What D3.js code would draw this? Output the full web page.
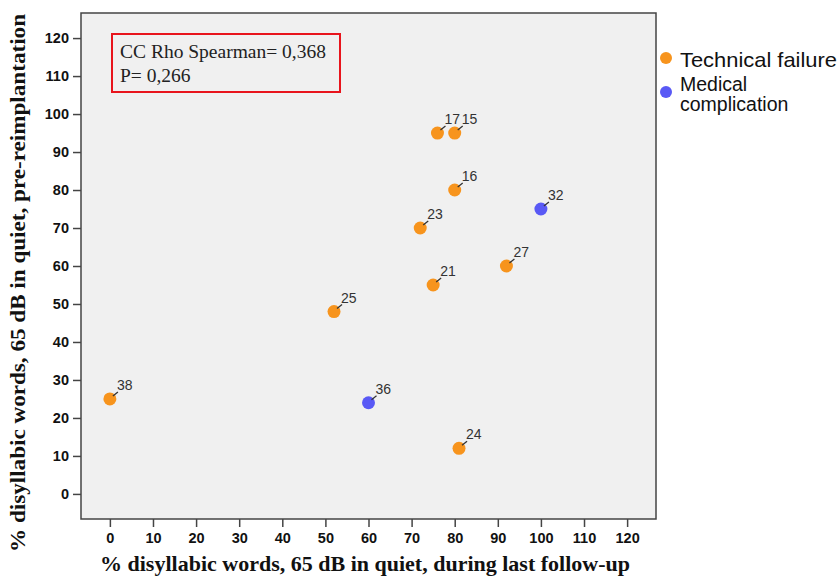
<!DOCTYPE html>
<html>
<head>
<meta charset="utf-8">
<script src="https://cdn.jsdelivr.net/npm/d3@7"></script>
<style>
  body { margin: 0; background: #fff; }
  svg { display: block; }
</style>
</head>
<body>
<div id="chart"></div>
<script>
// patient ids, follow-up score (x), pre-reimplantation score (y), group
const ids    = ["38", "25", "36", "23", "21", "17", "15", "16", "27", "24", "32"];
const xVals  = [0, 52, 60, 72, 75, 76, 80, 80, 92, 81, 100];
const yVals  = [25, 48, 24, 70, 55, 95, 95, 80, 60, 12, 75];
const groups = ["Technical failure", "Technical failure", "Medical complication",
                "Technical failure", "Technical failure", "Technical failure",
                "Technical failure", "Technical failure", "Technical failure",
                "Technical failure", "Medical complication"];
const groupNames = ["Technical failure", "Medical complication"];
const ticks = [0, 10, 20, 30, 40, 50, 60, 70, 80, 90, 100, 110, 120];
const statLines = ["CC Rho Spearman= 0,368", "P= 0,266"];

const W = 839, H = 576;
const plot = {left: 81, top: 13, right: 656, bottom: 519};
const serif = "'Liberation Serif', 'DejaVu Serif', serif";
const sans = "'Liberation Sans', Arial, sans-serif";

const color = d3.scaleOrdinal()
    .domain(groupNames)
    .range(["#f7941d", "#5959f5"]);

const x = d3.scaleLinear().domain([-6.7, 126.7]).range([plot.left, plot.right]);
const y = d3.scaleLinear().domain([-6.6, 126.6]).range([plot.bottom, plot.top]);

const svg = d3.select("#chart").append("svg")
    .attr("width", W).attr("height", H);

svg.append("rect")
    .attr("x", plot.left).attr("y", plot.top)
    .attr("width", plot.right - plot.left)
    .attr("height", plot.bottom - plot.top)
    .attr("fill", "#f0f0f0")
    .attr("stroke", "#444").attr("stroke-width", 1.5);

const xAxis = svg.append("g")
    .attr("transform", `translate(0,${plot.bottom})`)
    .call(d3.axisBottom(x).tickValues(ticks).tickSize(8).tickPadding(6));
const yAxis = svg.append("g")
    .attr("transform", `translate(${plot.left},0)`)
    .call(d3.axisLeft(y).tickValues(ticks).tickSize(8).tickPadding(4));

[xAxis, yAxis].forEach(a => {
    a.select(".domain").remove();
    a.selectAll(".tick line").attr("stroke", "#444").attr("stroke-width", 1.5);
    a.selectAll(".tick text")
        .attr("fill", "#111")
        .style("font", `bold 14.5px ${sans}`);
});

// axis titles
svg.append("text")
    .attr("x", 365).attr("y", 571)
    .attr("text-anchor", "middle")
    .attr("textLength", 530).attr("lengthAdjust", "spacingAndGlyphs")
    .style("font", `bold 21px ${serif}`)
    .attr("fill", "#111")
    .text("% disyllabic words, 65 dB in quiet, during last follow-up");

svg.append("text")
    .attr("transform", "translate(25,283) rotate(-90)")
    .attr("text-anchor", "middle")
    .attr("textLength", 538).attr("lengthAdjust", "spacingAndGlyphs")
    .style("font", `bold 21px ${serif}`)
    .attr("fill", "#111")
    .text("% disyllabic words, 65 dB in quiet, pre-reimplantation");

// stats box
svg.append("rect")
    .attr("x", 112).attr("y", 34).attr("width", 228).attr("height", 58)
    .attr("fill", "none").attr("stroke", "#e8141c").attr("stroke-width", 2);

svg.append("g").selectAll("text")
    .data(statLines)
    .join("text")
    .attr("x", 120)
    .attr("y", (d, i) => 58 + i * 24)
    .style("font", `19.5px ${serif}`)
    .attr("fill", "#222")
    .text(d => d);

// points
const pts = ids.map((id, i) => ({id, x: xVals[i], y: yVals[i], g: groups[i]}));

svg.append("g").selectAll("circle")
    .data(pts)
    .join("circle")
    .attr("cx", d => x(d.x))
    .attr("cy", d => y(d.y))
    .attr("r", 6.5)
    .attr("fill", d => color(d.g));

svg.append("g").selectAll("line")
    .data(pts)
    .join("line")
    .attr("x1", d => x(d.x) + 3).attr("y1", d => y(d.y) - 3)
    .attr("x2", d => x(d.x) + 8).attr("y2", d => y(d.y) - 7)
    .attr("stroke", "#333").attr("stroke-width", 1.3);

svg.append("g").selectAll("text")
    .data(pts)
    .join("text")
    .attr("x", d => x(d.x) + 7)
    .attr("y", d => y(d.y) - 9)
    .style("font", `14px ${sans}`)
    .attr("fill", "#333")
    .text(d => d.id);

// legend
const legend = svg.append("g").attr("transform", "translate(666,0)");
legend.append("circle").attr("cx", 0).attr("cy", 58).attr("r", 6).attr("fill", color(groupNames[0]));
legend.append("circle").attr("cx", 0).attr("cy", 92).attr("r", 6).attr("fill", color(groupNames[1]));
legend.append("text").attr("x", 14).attr("y", 67)
    .style("font", `21px ${sans}`).attr("fill", "#111")
    .attr("textLength", 157).attr("lengthAdjust", "spacingAndGlyphs")
    .text(groupNames[0]);
const med = legend.append("text").attr("x", 14).attr("y", 91)
    .style("font", `19.5px ${sans}`).attr("fill", "#111");
med.append("tspan").attr("x", 14).text("Medical");
med.append("tspan").attr("x", 14).attr("dy", 20).text("complication");
</script>
</body>
</html>
